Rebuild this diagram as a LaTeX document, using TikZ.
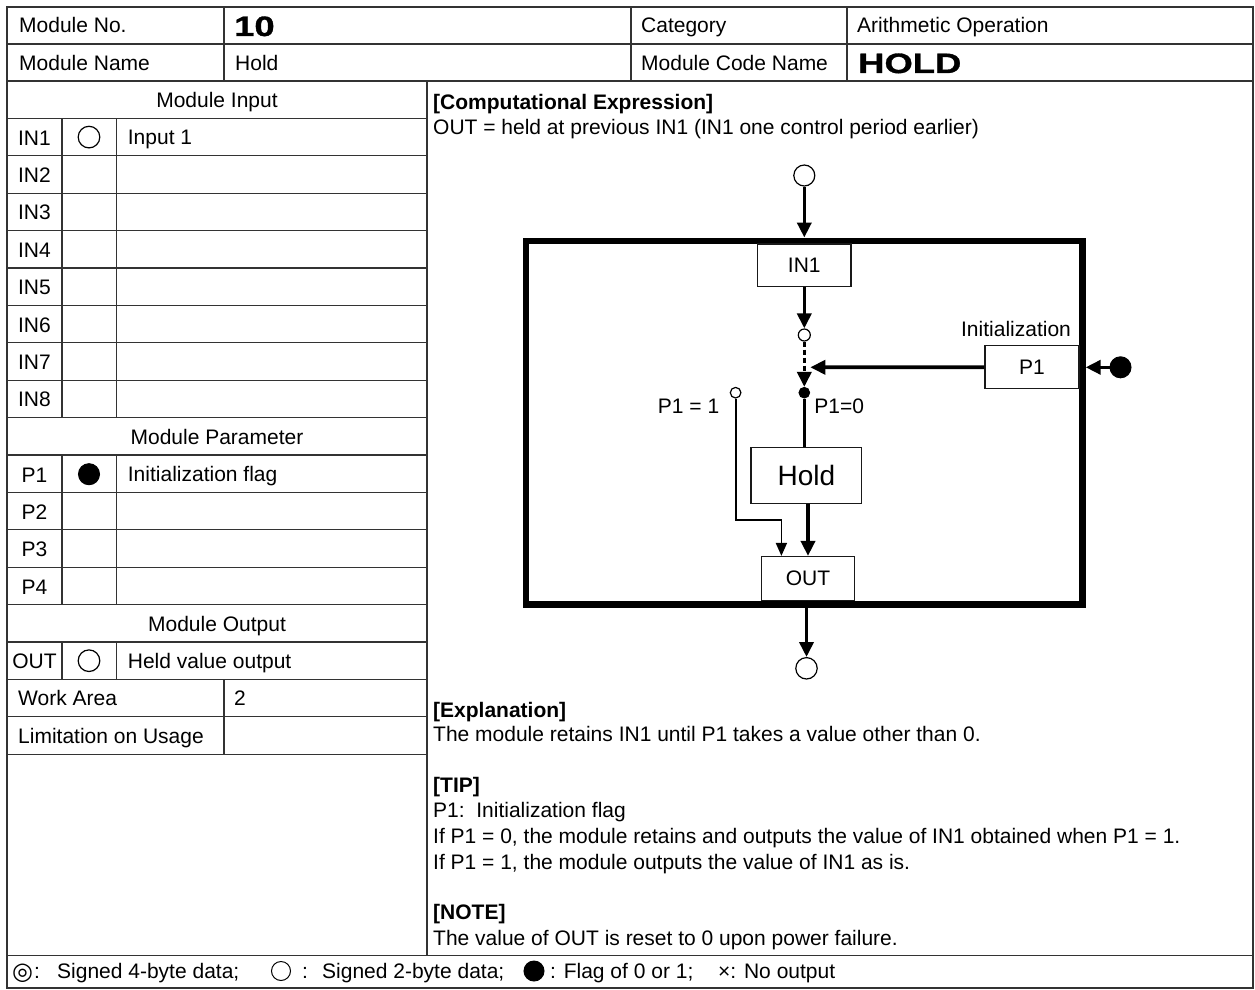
\documentclass[tikz,border=0pt]{standalone}
\usepackage{fontspec}
\setmainfont{Liberation Sans}
\newfontfamily\symfont{DejaVu Sans}
\newfontfamily\widefont[FakeStretch=1.3,FakeBold=1.2]{Liberation Sans}
\usetikzlibrary{arrows.meta}
\newcommand\myfs{\fontsize{21}{25}\selectfont}
\newcommand\mybig{\fontsize{28}{32}\selectfont}
\newcommand\mywide{\widefont\bfseries\fontsize{28}{31}\selectfont}
\begin{document}
\begin{tikzpicture}[x=1pt,y=-1pt,
  every node/.style={font=\myfs, inner sep=0pt},
  grid/.style={draw=black!80, line width=1.3pt},
  t/.style={anchor=base west},
  c/.style={anchor=base},
  bx/.style={draw=black!90, line width=1.2pt, fill=white},
  circ/.style={circle, draw, line width=1.2pt, fill=white},
  dot/.style={circle, draw, fill=black, line width=1pt},
  thk/.style={line width=3.6pt, -{Triangle[length=15pt,width=14pt]}},
  thn/.style={line width=1.8pt, -{Triangle[length=13pt,width=11pt]}}
]
\useasboundingbox (0,0) rectangle (1255,990);
\fill[white] (0,0) rectangle (1255,990);

% ---------- table grid ----------
\draw[grid] (7,7) rectangle (1253,988);
\foreach \y in {44,81} \draw[grid] (7,\y) -- (1253,\y);
\foreach \x in {224,631,847} \draw[grid] (\x,7) -- (\x,81);
\draw[grid] (427,81) -- (427,955.7);
\draw[grid] (7,955.7) -- (1253,955.7);
\foreach \k in {1,...,18} \draw[grid] (7,81+37.4*\k) -- (427,81+37.4*\k);
\foreach \x in {62,116.3} {
  \draw[grid] (\x,118.4) -- (\x,417.6);
  \draw[grid] (\x,455) -- (\x,604.6);
  \draw[grid] (\x,642) -- (\x,679.4);
}
\draw[grid] (224,679.4) -- (224,754.2);

% ---------- header texts ----------
\node[t] (hNo) at (19,33) {Module No.};
\node[t, font=\mywide] (vNo) at (234,36) {10};
\node[t] (hCat) at (641,33) {Category};
\node[t] (vCat) at (857,33) {Arithmetic Operation};
\node[t] (hName) at (19,70.5) {Module Name};
\node[t] (vName) at (235,70.5) {Hold};
\node[t] (hCode) at (641,70.5) {Module Code Name};
\node[t, font=\mywide] (vCode) at (858,73) {HOLD};

% ---------- left table ----------
\node[c] (hIn) at (217,107.7) {Module Input};
\foreach \i in {1,...,8} \node[c] (in\i lbl) at (34.5,81+37.4*\i+26.7) {IN\i};
\node[circ, minimum size=21.6pt] (symIn1) at (89,137.1) {};
\node[t] (dIn1) at (127.7,144.8) {Input 1};
\node[c] (hPar) at (217,444.3) {Module Parameter};
\foreach \i in {1,...,4} \node[c] (p\i lbl) at (34.5,418+37.4*\i+26.7) {P\i};
\node[dot, minimum size=21pt] (symP1) at (89,474.2) {};
\node[t] (dP1) at (127.7,481.9) {Initialization flag};
\node[c] (hOut) at (217,631.1) {Module Output};
\node[c] (outlbl) at (34.5,668.5) {OUT};
\node[circ, minimum size=21.6pt] (symOut) at (89,660.7) {};
\node[t] (dOut) at (127.7,668.5) {Held value output};
\node[t] (wa) at (18,705.9) {Work Area};
\node[t] (waV) at (234,705.9) {2};
\node[t] (lim) at (18,743.3) {Limitation on Usage};

% ---------- right texts ----------
\node[t, font=\myfs\bfseries] (ceH) at (433,109) {[Computational Expression]};
\node[t] (ce) at (433,134) {OUT = held at previous IN1 (IN1 one control period earlier)};
\node[t, font=\myfs\bfseries] (exH) at (433,717) {[Explanation]};
\node[t] (ex) at (433,741) {The module retains IN1 until P1 takes a value other than 0.};
\node[t, font=\myfs\bfseries] (tipH) at (433,792) {[TIP]};
\node[t] (tip1) at (433,817) {P1:\ \ Initialization flag};
\node[t] (tip2) at (433,843) {If P1 = 0, the module retains and outputs the value of IN1 obtained when P1 = 1.};
\node[t] (tip3) at (433,869) {If P1 = 1, the module outputs the value of IN1 as is.};
\node[t, font=\myfs\bfseries] (noH) at (433,919) {[NOTE]};
\node[t] (no) at (433,945) {The value of OUT is reset to 0 upon power failure.};

% ---------- legend ----------
\node[t, font=\symfont\fontsize{24}{26}\selectfont] (lg1s) at (12,979) {◎};
\node[t] (lg1c) at (34,978) {:};
\node[t] (lg1) at (57,978) {Signed 4-byte data;};
\node[circ, minimum size=19pt, line width=1pt] (lg2s) at (281,971) {};
\node[t] (lg2c) at (302,978) {:};
\node[t] (lg2) at (322,978) {Signed 2-byte data;};
\node[dot, minimum size=20pt] (lg3s) at (534,971) {};
\node[t] (lg3) at (550,978) {: Flag of 0 or 1;};
\node[t] (lg4) at (718,978) {×: No output};

% ---------- diagram ----------
\node[draw, line width=6.3pt, minimum width=556.7pt, minimum height=363.7pt] (frame) at (804.15,422.55) {};
\node[circ, minimum size=21pt] (inC) at (804.3,175.5) {};
\node[bx, minimum width=93.3pt, minimum height=42.7pt] (in1) at (804.3,265.4) {IN1};
\node[circ, minimum size=12pt] (sw1) at (804.3,335) {};
\node[dot, minimum size=10.6pt] (sw0) at (804.3,392.7) {};
\node[circ, minimum size=10.6pt] (swA) at (735.6,392.7) {};
\node[bx, minimum width=94pt, minimum height=43pt] (p1) at (1032,367.2) {P1};
\node[c] (initlbl) at (1016,336) {Initialization};
\node[dot, minimum size=21pt] (p1C) at (1120.5,367.3) {};
\node[anchor=base east] (lblA) at (719.4,413.3) {P1 = 1};
\node[anchor=base west] (lblB) at (814.2,413.3) {P1=0};
\node[bx, minimum width=110.7pt, minimum height=55.8pt, font=\mybig] (hold) at (806.4,475.3) {Hold};
\node[bx, minimum width=93.5pt, minimum height=44pt] (out) at (808,578.5) {OUT};
\node[circ, minimum size=21.4pt] (outC) at (806.5,668.3) {};
\coordinate (sw) at (810.3,367.3);
\coordinate (bendB) at (781.4,520);

\draw[thk] (inC.south) -- (inC.south |- frame.north);
\draw[thk] (in1.south) -- (sw1.north);
\draw[thk, dash pattern=on 5pt off 3pt] (sw1.south) -- (sw0.north);
\draw[thk] (p1.west) -- (sw);
\draw[thk] (p1C.west) -- (p1C.west -| frame.east);
\draw[line width=3.6pt] (sw0.south) -- (sw0.south |- hold.north);
\draw[thn] (swA.south) |- (bendB) -- (bendB |- out.north);
\draw[thk] (hold.south -| out.north) -- (out.north);
\draw[thk] (outC.north |- frame.south) -- (outC.north);
\end{tikzpicture}
\end{document}
